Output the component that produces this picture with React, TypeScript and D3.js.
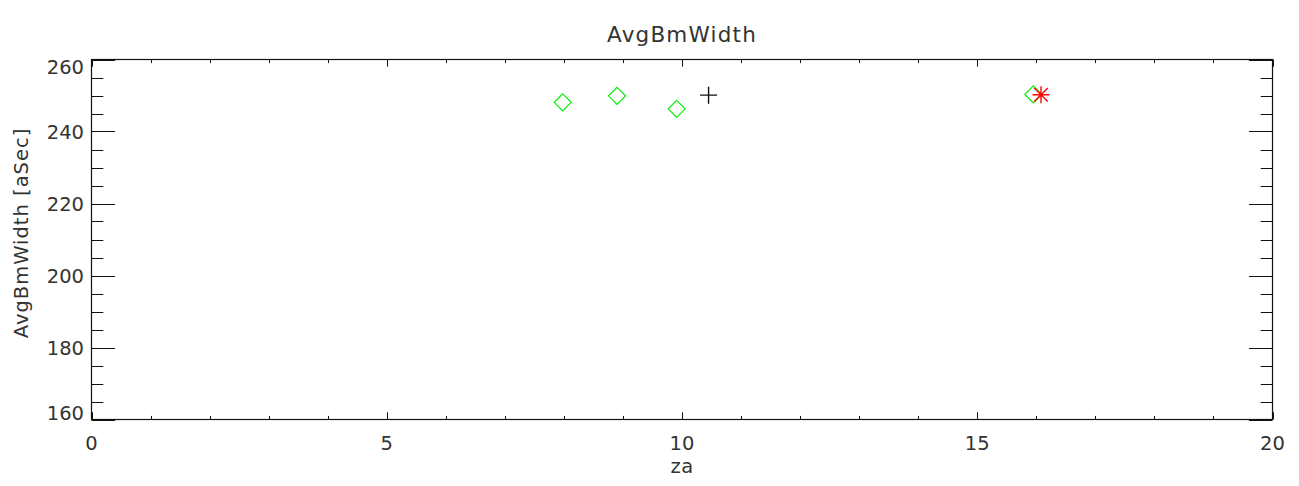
import React from "react";
import * as d3 from "d3";

const title = "AvgBmWidth";
const xTitle = "za";
const yTitle = "AvgBmWidth [aSec]";

const xDomain = [0, 20];
const yDomain = [160, 260];
const xMajorTicks = [0, 5, 10, 15, 20];
const yMajorTicks = [160, 180, 200, 220, 240, 260];

const diamondX = [7.98, 8.9, 9.91, 15.95];
const diamondY = [248.1, 249.9, 246.3, 250.3];
const plusX = [10.45];
const plusY = [250.1];
const starX = [16.08];
const starY = [250.2];

const W = 1299;
const H = 486;
const L = 91.5, R = 1272.5, T = 59.5, B = 419.5;
const FONT = "'DejaVu Sans', sans-serif";

export default function App() {
  const x = d3.scaleLinear().domain(xDomain).range([L, R]);
  const y = d3.scaleLinear().domain(yDomain).range([B, T]);
  const xMinor = d3.range(xDomain[0], xDomain[1] + 0.001, 1);
  const yMinor = d3.range(yDomain[0], yDomain[1] + 0.001, 5);
  const yMajLen = 0.02 * (R - L);
  const xMajLen = 0.02 * (B - T);
  const ink = "#111";
  const txt = "#333";
  const s = 8.5;

  return (
    <svg width={W} height={H} style={{ position: "absolute", left: 0, top: 0, background: "#fff" }}>
      <rect x={0} y={0} width={W} height={H} fill="#fff" />
      <rect x={L} y={T} width={R - L} height={B - T} fill="none" stroke={ink} strokeWidth={1.2} />
      {xMinor.map((v) => {
        const maj = xMajorTicks.includes(v);
        const len = maj ? xMajLen : xMajLen / 2;
        const px = Math.round(x(v)) + 0.5;
        return (
          <g key={"xt" + v}>
            <line x1={px} x2={px} y1={B} y2={B - len} stroke={ink} />
            <line x1={px} x2={px} y1={T} y2={T + len} stroke={ink} />
          </g>
        );
      })}
      {yMinor.map((v) => {
        const maj = yMajorTicks.includes(v);
        const len = maj ? yMajLen : yMajLen / 2;
        const py = Math.round(y(v)) + 0.5;
        return (
          <g key={"yt" + v}>
            <line x1={L} x2={L + len} y1={py} y2={py} stroke={ink} />
            <line x1={R} x2={R - len} y1={py} y2={py} stroke={ink} />
          </g>
        );
      })}
      {xMajorTicks.map((v) => (
        <text key={"xl" + v} x={x(v)} y={450} textAnchor="middle" fontFamily={FONT} fontSize={19.5} fill={txt}>
          {v}
        </text>
      ))}
      {yMajorTicks.map((v) => {
        const cy = Math.max(T + 7, Math.min(B - 7, y(v)));
        return (
          <text key={"yl" + v} x={84} y={cy + 7} textAnchor="end" fontFamily={FONT} fontSize={19.5} fill={txt}>
            {v}
          </text>
        );
      })}
      <text x={(L + R) / 2} y={41.5} textAnchor="middle" fontFamily={FONT} fontSize={21.5} fill={txt} letterSpacing={1.2}>
        {title}
      </text>
      <text x={(L + R) / 2} y={473} textAnchor="middle" fontFamily={FONT} fontSize={19.5} fill={txt} letterSpacing={0.5}>
        {xTitle}
      </text>
      <text
        transform={`translate(28, 233) rotate(-90)`}
        textAnchor="middle"
        fontFamily={FONT}
        fontSize={19.5}
        fill={txt}
        letterSpacing={1}
      >
        {yTitle}
      </text>
      {diamondX.map((v, i) => {
        const cx = x(v), cy = y(diamondY[i]);
        return (
          <path
            key={"d" + i}
            d={`M${cx},${cy - s}L${cx + s},${cy}L${cx},${cy + s}L${cx - s},${cy}Z`}
            fill="none"
            stroke="#00ee00"
            strokeWidth={1.2}
          />
        );
      })}
      {plusX.map((v, i) => {
        const cx = x(v), cy = y(plusY[i]);
        return (
          <path key={"p" + i} d={`M${cx - s},${cy}H${cx + s}M${cx},${cy - s}V${cy + s}`} stroke={ink} strokeWidth={1.4} />
        );
      })}
      {starX.map((v, i) => {
        const cx = x(v), cy = y(starY[i]);
        const dd = s * 0.8;
        return (
          <path
            key={"s" + i}
            d={`M${cx - s},${cy}H${cx + s}M${cx},${cy - s}V${cy + s}M${cx - dd},${cy - dd}L${cx + dd},${cy + dd}M${cx - dd},${cy + dd}L${cx + dd},${cy - dd}`}
            stroke="#ff0000"
            strokeWidth={1.4}
          />
        );
      })}
    </svg>
  );
}
